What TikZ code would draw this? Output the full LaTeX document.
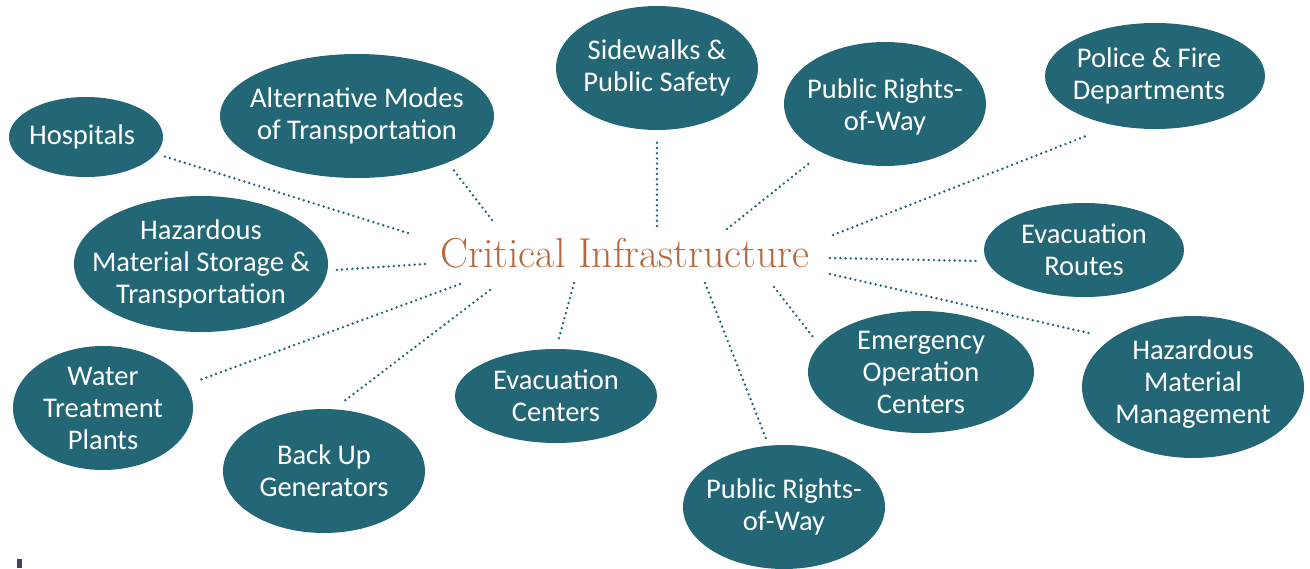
\documentclass[tikz,border=0pt]{standalone}
\usepackage{fontspec}
\usetikzlibrary{shapes.geometric}
\newfontfamily\blobfont{Carlito}
\definecolor{infrateal}{HTML}{236676}
\definecolor{infraorange}{HTML}{B5693C}
\definecolor{infragrey}{HTML}{3F4656}
\tikzset{
  blob/.style 2 args={ellipse, fill=infrateal, inner sep=0pt,
    minimum width=2*#1, minimum height=2*#2},
  blobtext/.style={font=\blobfont\fontsize{28.5}{32}\selectfont, text=white, align=center},
  hubtext/.style={font=\fontsize{41.8}{44}\selectfont, text=infraorange, inner sep=0pt},
  link/.style={draw=infrateal, line width=2.7pt, line cap=round, dash pattern=on 0pt off 5.2pt},
}
\begin{document}
\begin{tikzpicture}[x=1pt, y=-1pt]
  \useasboundingbox (0,0) rectangle (1310,568);

  % hub
  \node[hubtext] (hub) at (625,253) {Critical Infrastructure};

  % left side
  \node[blob={77}{40}, label={[blobtext, xshift=-4pt]center:{Hospitals}}] (hosp) at (86,137) {};
  \node[blob={137}{62}, label={[blobtext]center:{Alternative Modes\\of Transportation}}] (altm) at (357,116) {};
  \node[blob={127}{68}, label={[blobtext]center:{Hazardous\\Material Storage \&\\Transportation}}] (hzst) at (201,264) {};
  \node[blob={90}{62}, label={[blobtext]center:{Water\\Treatment\\Plants}}] (wtp) at (103,408) {};
  \node[blob={101}{62}, label={[blobtext]center:{Back Up\\Generators}}] (bkup) at (324,471) {};
  \node[blob={101}{47}, label={[blobtext]center:{Evacuation\\Centers}}] (evcn) at (556,396) {};

  % top and right side
  \node[blob={101}{62}, label={[blobtext]center:{Sidewalks \&\\Public Safety}}] (side) at (657,68) {};
  \node[blob={101}{62}, label={[blobtext, yshift=-3pt]center:{Public Rights-\\of-Way}}] (prow) at (885,104) {};
  \node[blob={110}{53}, label={[blobtext, xshift=-6pt]center:{Police \& Fire\\Departments}}] (pofd) at (1155,76) {};
  \node[blob={100}{47}, label={[blobtext]center:{Evacuation\\Routes}}] (evrt) at (1084,250) {};
  \node[blob={111}{71}, label={[blobtext, yshift=3pt]center:{Hazardous\\Material\\Management}}] (hzmm) at (1193,387) {};
  \node[blob={113}{61}, label={[blobtext]center:{Emergency\\Operation\\Centers}}] (eoc) at (921,372) {};
  \node[blob={101}{62}, label={[blobtext]center:{Public Rights-\\of-Way}}] (prwb) at (784,507) {};

  % dotted connectors, hub offset then node offset
  \foreach \nd/\hx/\hy/\ex/\ey in {
      hosp/-217/-20/74/18, altm/-133/-33/95/52, side/32/-27/0/71,
      prow/102/-24/-73/57, pofd/208/-18/-69/60, evrt/205/5/-107/11,
      hzmm/205/21/-100/-53, eoc/149/34/-108/-35, prwb/80/30/-17/-66,
      evcn/-51/30/2/-54, bkup/-135/37/19/-69, wtp/-165/31/94/-27,
      hzst/-200/11/134/6}
    \draw[link] ([shift={(\hx,\hy)}]hub.center) -- ([shift={(\ex,\ey)}]\nd.center);

  % small mark, bottom left
  \fill[infragrey] (17,559) rectangle (22,568);
\end{tikzpicture}
\end{document}
